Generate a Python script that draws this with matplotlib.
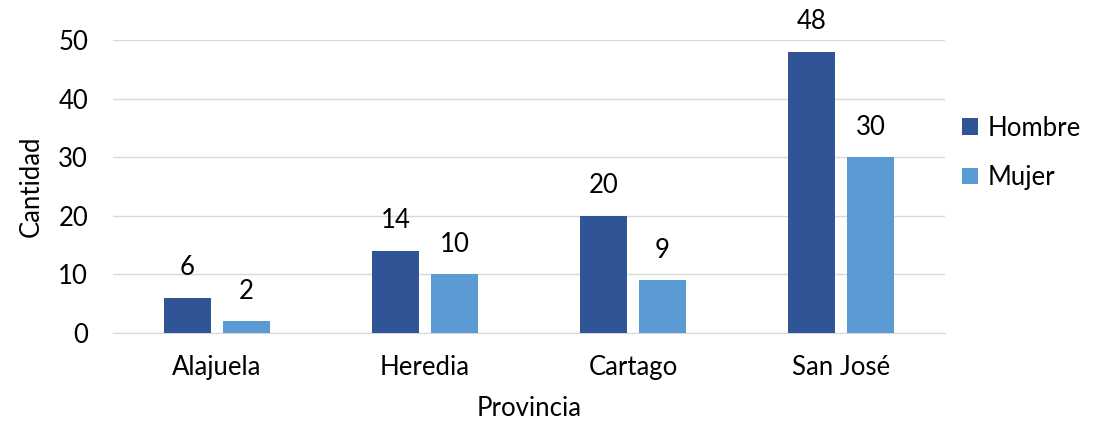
import matplotlib.pyplot as plt
import numpy as np

# Datos
provincias = ["Alajuela", "Heredia", "Cartago", "San José"]
hombre = [6, 14, 20, 48]
mujer = [2, 10, 9, 30]

COLOR_HOMBRE = "#2F5597"
COLOR_MUJER = "#5B9BD5"
FS = 18.5

plt.rcParams["font.family"] = ["Lato", "DejaVu Sans"]

fig = plt.figure(figsize=(10.94, 4.21), dpi=100)
ax = fig.add_axes([0.1033, 0.209, 0.7605, 0.696])

x = np.arange(len(provincias))
w = 0.226
off = 0.142
b1 = ax.bar(x - off, hombre, w, color=COLOR_HOMBRE, label="Hombre", zorder=3)
b2 = ax.bar(x + off, mujer, w, color=COLOR_MUJER, label="Mujer", zorder=3)

for bars, vals in [(b1, hombre), (b2, mujer)]:
    for rect, v in zip(bars, vals):
        ax.text(rect.get_x() + rect.get_width() / 2, v + 3.0, str(v),
                ha="center", va="bottom", fontsize=FS, clip_on=False)

ax.set_xlim(-0.5, len(provincias) - 0.5)
ax.set_ylim(0, 50)
ax.set_yticks(range(0, 51, 10))
ax.set_xticks(x)
ax.set_xticklabels(provincias)
ax.tick_params(axis="both", length=0, labelsize=FS)
ax.tick_params(axis="x", pad=16)
ax.tick_params(axis="y", pad=18)
ax.grid(axis="y", color="#D9D9D9", linewidth=1, zorder=0)
for s in ["top", "right", "left"]:
    ax.spines[s].set_visible(False)
ax.spines["bottom"].set_color("#D9D9D9")

ax.set_ylabel("Cantidad", fontsize=FS, labelpad=10)
ax.set_xlabel("Provincia", fontsize=FS, labelpad=11)

ax.legend(loc="center left", bbox_to_anchor=(0.993, 0.615), frameon=False,
          fontsize=FS, handlelength=0.6, handleheight=0.6, labelspacing=0.95,
          handletextpad=0.4)

fig.savefig("out.png", dpi=100)
